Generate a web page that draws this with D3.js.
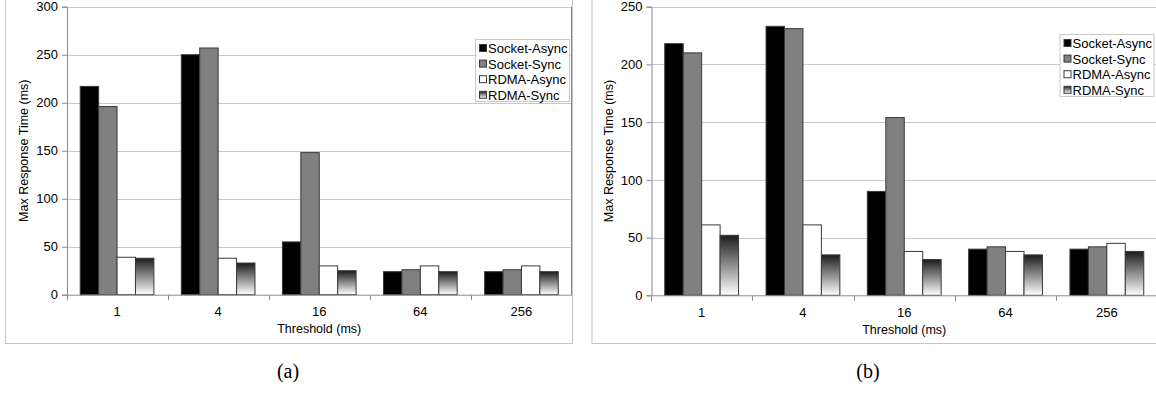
<!DOCTYPE html>
<html>
<head>
<meta charset="utf-8">
<script src="https://cdn.jsdelivr.net/npm/d3@7"></script>
<style>
  body { margin: 0; background: #fff; }
  svg { display: block; font-family: "Liberation Sans", Arial, sans-serif; }
</style>
</head>
<body>
<svg id="chart" width="1156" height="398"></svg>
<script>
// data
const thresholds = ["1", "4", "16", "64", "256"];
const seriesNames = ["Socket-Async", "Socket-Sync", "RDMA-Async", "RDMA-Sync"];

const panelA = {
  socketAsync: [217, 250, 55, 24, 24],
  socketSync:  [196, 257, 148, 26, 26],
  rdmaAsync:   [39, 38, 30, 30, 30],
  rdmaSync:    [38, 33, 25, 24, 24]
};
const panelB = {
  socketAsync: [218, 233, 90, 40, 40],
  socketSync:  [210, 231, 154, 42, 42],
  rdmaAsync:   [61, 61, 38, 38, 45],
  rdmaSync:    [52, 35, 31, 35, 38]
};
const yTicksA = [0, 50, 100, 150, 200, 250, 300];
const yTicksB = [0, 50, 100, 150, 200, 250];

const svg = d3.select("#chart");

// gradient for RDMA-Sync bars
const defs = svg.append("defs");
const grad = defs.append("linearGradient")
  .attr("id", "rdmaGrad")
  .attr("x1", 0).attr("y1", 0).attr("x2", 0).attr("y2", 1);
grad.append("stop").attr("offset", "0%").attr("stop-color", "#1c1c1c");
grad.append("stop").attr("offset", "100%").attr("stop-color", "#ffffff");

const fills = ["#000000", "#808080", "#ffffff", "url(#rdmaGrad)"];

function drawPanel(opts) {
  const { frame, plot, data, ticks, caption, legend } = opts;
  const keys = ["socketAsync", "socketSync", "rdmaAsync", "rdmaSync"];

  const g = svg.append("g");

  // outer frame
  g.append("rect")
    .attr("x", frame.x0 + 0.5).attr("y", frame.y0 + 0.5)
    .attr("width", frame.x1 - frame.x0).attr("height", frame.y1 - frame.y0)
    .attr("fill", "#fff").attr("stroke", "#c4c4c4");

  const x = d3.scaleBand()
    .domain(thresholds)
    .range([plot.left, plot.right]);

  const xs = d3.scaleBand()
    .domain(keys)
    .range([0, x.bandwidth()])
    .paddingOuter(0.745);

  const y = d3.scaleLinear()
    .domain([0, d3.max(ticks)])
    .range([plot.bottom, plot.top]);

  // gridlines
  g.append("g").selectAll("line")
    .data(ticks.filter(t => t > 0))
    .enter().append("line")
    .attr("x1", plot.left).attr("x2", plot.right)
    .attr("y1", d => Math.round(y(d)) + 0.5).attr("y2", d => Math.round(y(d)) + 0.5)
    .attr("stroke", "#c8c8c8");

  // right border of plot
  g.append("line")
    .attr("x1", plot.right - 0.5).attr("x2", plot.right - 0.5)
    .attr("y1", plot.top).attr("y2", plot.bottom)
    .attr("stroke", "#8a8a8a");

  // bars
  keys.forEach((k, i) => {
    g.append("g").selectAll("rect")
      .data(data[k])
      .enter().append("rect")
      .attr("x", (d, j) => x(thresholds[j]) + xs(k))
      .attr("y", d => y(d))
      .attr("width", xs.bandwidth())
      .attr("height", d => y(0) - y(d))
      .attr("fill", fills[i])
      .attr("stroke", "#3a3a3a")
      .attr("stroke-width", 1);
  });

  // y axis
  const yAxis = g.append("g")
    .attr("transform", `translate(${plot.left + 0.5},0)`)
    .call(d3.axisLeft(y).tickValues(ticks).tickSize(5).tickPadding(4));
  yAxis.select(".domain").attr("stroke", "#8a8a8a");
  yAxis.selectAll(".tick line").attr("stroke", "#8a8a8a");
  yAxis.selectAll(".tick text")
    .attr("font-size", 13).attr("fill", "#000")
    .attr("font-family", "Liberation Sans, Arial, sans-serif");

  // x axis: ticks sit between groups
  const xAxis = g.append("g")
    .attr("transform", `translate(0,${plot.bottom + 0.5})`);
  xAxis.append("line")
    .attr("x1", plot.left).attr("x2", plot.right)
    .attr("stroke", "#8a8a8a");
  xAxis.selectAll("line.sep")
    .data(thresholds)
    .enter().append("line")
    .attr("class", "sep")
    .attr("x1", d => Math.round(x(d)) + 0.5).attr("x2", d => Math.round(x(d)) + 0.5)
    .attr("y1", 0).attr("y2", 5)
    .attr("stroke", "#8a8a8a");
  xAxis.selectAll("text")
    .data(thresholds)
    .enter().append("text")
    .attr("x", d => x(d) + x.bandwidth() / 2)
    .attr("y", 21)
    .attr("text-anchor", "middle")
    .attr("font-size", 13)
    .text(d => d);

  // axis titles
  g.append("text")
    .attr("x", (plot.left + Math.min(plot.right, 1156)) / 2 - (plot.right > 1156 ? 0 : 0))
    .attr("x", x("16") + x.bandwidth() / 2)
    .attr("y", plot.bottom + 38.5)
    .attr("text-anchor", "middle")
    .attr("font-size", 12.5)
    .text("Threshold (ms)");

  g.append("text")
    .attr("transform", `translate(${opts.yTitleX},${(plot.top + plot.bottom) / 2}) rotate(-90)`)
    .attr("text-anchor", "middle")
    .attr("dy", "0.35em")
    .attr("font-size", 12.5)
    .text("Max Response Time (ms)");

  // legend
  const lg = g.append("g");
  lg.append("rect")
    .attr("x", legend.x + 0.5).attr("y", legend.y + 0.5)
    .attr("width", 94).attr("height", 62)
    .attr("fill", "#fff").attr("stroke", "#c8c8c8");
  seriesNames.forEach((name, i) => {
    const ry = legend.y + 9.5 + i * 15.6;
    lg.append("rect")
      .attr("x", legend.x + 4.5).attr("y", ry - 4)
      .attr("width", 7).attr("height", 7)
      .attr("fill", fills[i]).attr("stroke", "#3a3a3a");
    lg.append("text")
      .attr("x", legend.x + 13)
      .attr("y", ry)
      .attr("dy", "0.35em")
      .attr("font-size", 13)
      .text(name);
  });

  // caption
  g.append("text")
    .attr("x", caption.x).attr("y", caption.y)
    .attr("text-anchor", "middle")
    .attr("font-family", "Liberation Serif, Times New Roman, serif")
    .attr("font-size", 20)
    .text(caption.text);
}

drawPanel({
  frame: { x0: 5, y0: -2, x1: 572, y1: 343 },
  plot: { left: 66.5, right: 572, top: 6.7, bottom: 294.7 },
  data: panelA,
  ticks: yTicksA,
  yTitleX: 24,
  legend: { x: 475, y: 39 },
  caption: { x: 288, y: 378, text: "(a)" }
});

drawPanel({
  frame: { x0: 591.5, y0: -2, x1: 1170, y1: 343 },
  plot: { left: 651, right: 1157.5, top: 6.7, bottom: 295.3 },
  data: panelB,
  ticks: yTicksB,
  yTitleX: 609,
  legend: { x: 1059.5, y: 34 },
  caption: { x: 868, y: 378, text: "(b)" }
});
</script>
</body>
</html>
